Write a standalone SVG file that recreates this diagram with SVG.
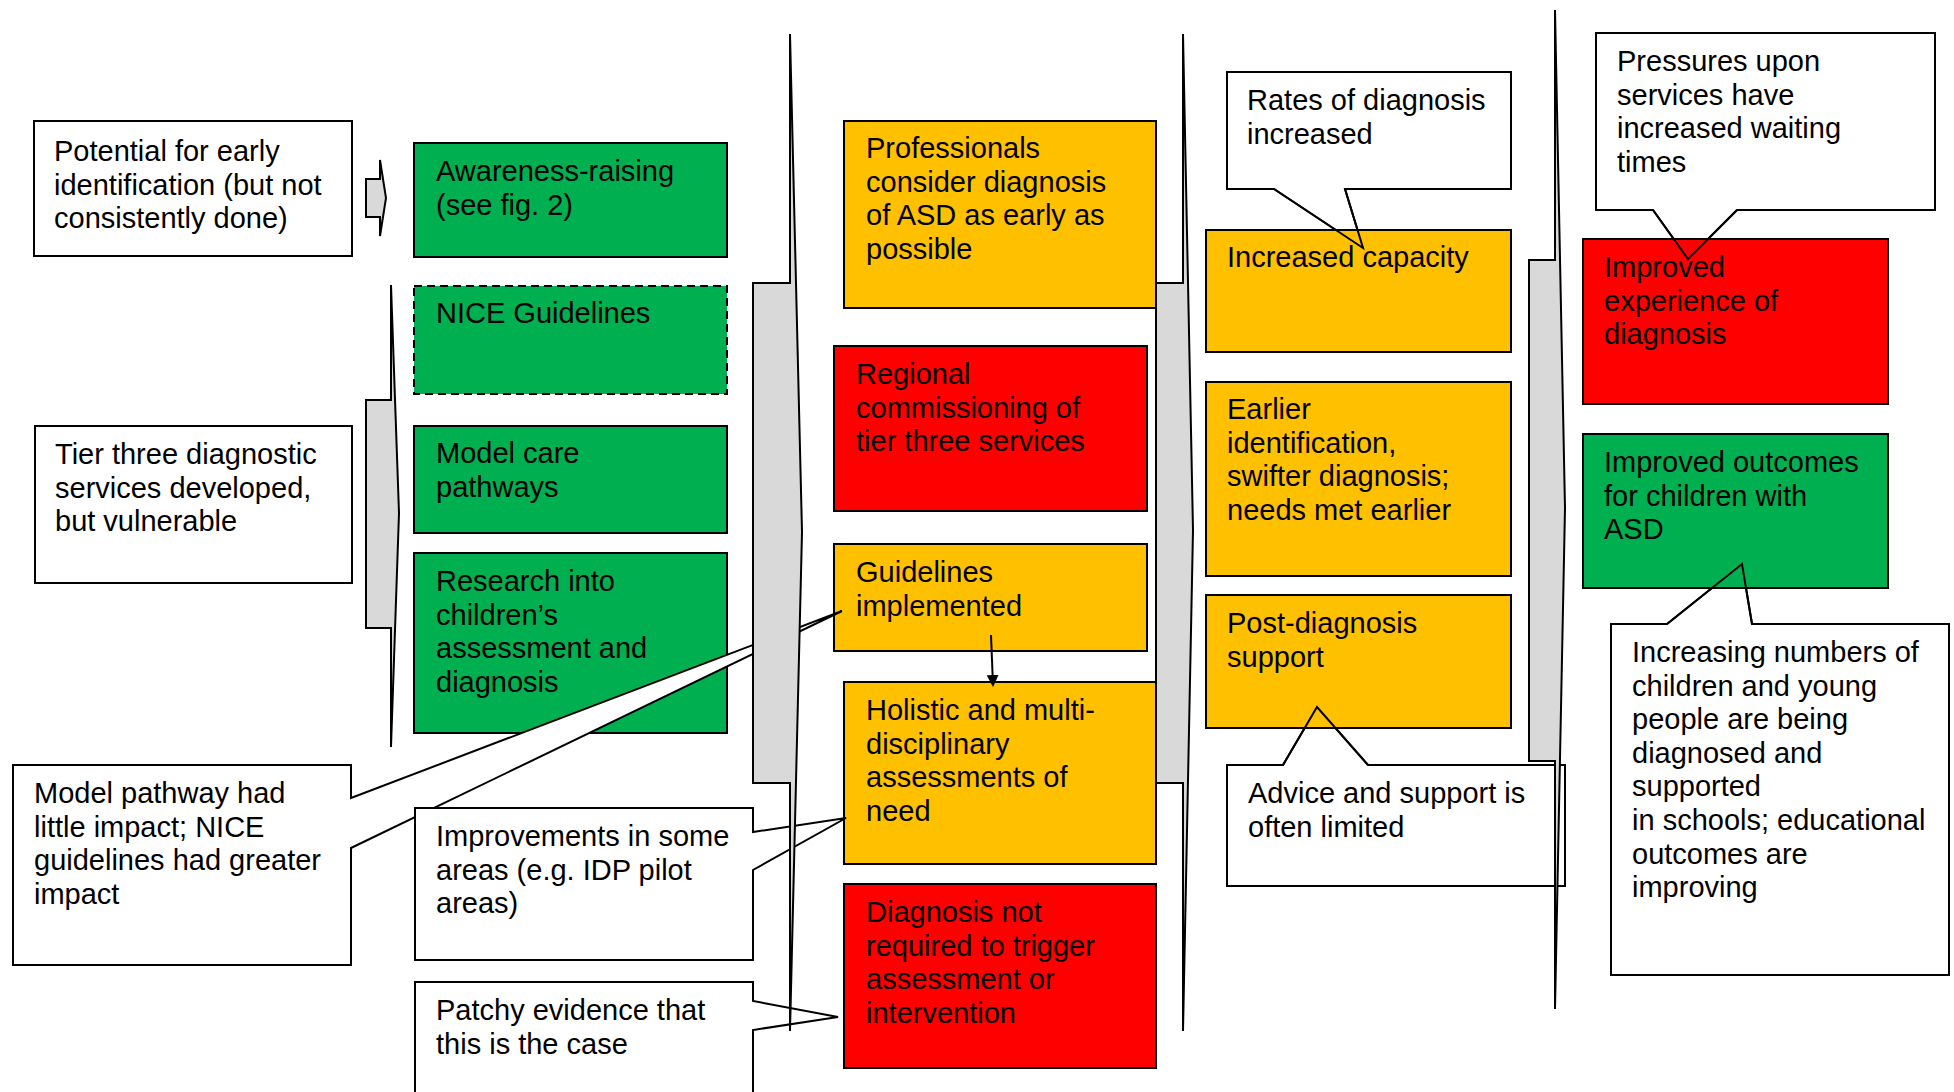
<svg xmlns="http://www.w3.org/2000/svg" width="1954" height="1092" viewBox="0 0 1954 1092">
<defs>
<style>
.t{font-family:"Liberation Sans",Arial,sans-serif;font-size:29px;fill:#000}
.box{stroke:#000;stroke-width:2}
.g{fill:#00b050}.y{fill:#ffc000}.r{fill:#ff0000}.w{fill:#fff}
.dash{stroke-dasharray:8 5}
.arr{fill:#d9d9d9;stroke:#000;stroke-width:2;stroke-linejoin:miter}
.ptr{fill:none;stroke:#000;stroke-width:2;stroke-linejoin:miter}
.con{stroke:#000;stroke-width:2;fill:none}
</style>
<marker id="ah" markerWidth="12" markerHeight="12" refX="10" refY="6" orient="auto" markerUnits="userSpaceOnUse">
<path d="M0,0 L12,6 L0,12 z" fill="#000"/>
</marker>
</defs>
<rect width="1954" height="1092" fill="#fff"/>

<g id="n-potential">
<rect class="box w" x="34" y="121" width="318" height="135"/>
<text class="t" x="54" y="161"><tspan x="54">Potential for early</tspan><tspan x="54" dy="33.6">identification (but not</tspan><tspan x="54" dy="33.6">consistently done)</tspan></text>
</g>
<g id="n-tier3">
<rect class="box w" x="35" y="426" width="317" height="157"/>
<text class="t" x="55" y="464"><tspan x="55">Tier three diagnostic</tspan><tspan x="55" dy="33.6">services developed,</tspan><tspan x="55" dy="33.6">but vulnerable</tspan></text>
</g>

<g id="n-awareness">
<rect class="box g" x="414" y="143" width="313" height="114"/>
<text class="t" x="436" y="181"><tspan x="436">Awareness-raising</tspan><tspan x="436" dy="33.6">(see fig. 2)</tspan></text>
</g>
<g id="n-nice">
<rect class="box g dash" x="414" y="286" width="313" height="108"/>
<text class="t" x="436" y="323">NICE Guidelines</text>
</g>
<g id="n-model">
<rect class="box g" x="414" y="426" width="313" height="107"/>
<text class="t" x="436" y="463"><tspan x="436">Model care</tspan><tspan x="436" dy="33.6">pathways</tspan></text>
</g>
<g id="n-research">
<rect class="box g" x="414" y="553" width="313" height="180"/>
<text class="t" x="436" y="591"><tspan x="436">Research into</tspan><tspan x="436" dy="33.6">children’s</tspan><tspan x="436" dy="33.6">assessment and</tspan><tspan x="436" dy="33.6">diagnosis</tspan></text>
</g>

<g id="n-professionals">
<rect class="box y" x="844" y="121" width="312" height="187"/>
<text class="t" x="866" y="158"><tspan x="866">Professionals</tspan><tspan x="866" dy="33.6">consider diagnosis</tspan><tspan x="866" dy="33.6">of ASD as early as</tspan><tspan x="866" dy="33.6">possible</tspan></text>
</g>
<g id="n-regional">
<rect class="box r" x="834" y="346" width="313" height="165"/>
<text class="t" x="856" y="384"><tspan x="856">Regional</tspan><tspan x="856" dy="33.6">commissioning of</tspan><tspan x="856" dy="33.6">tier three services</tspan></text>
</g>
<g id="n-guidelines">
<rect class="box y" x="834" y="544" width="313" height="107"/>
<text class="t" x="856" y="582"><tspan x="856">Guidelines</tspan><tspan x="856" dy="33.6">implemented</tspan></text>
</g>
<g id="n-holistic">
<rect class="box y" x="844" y="682" width="312" height="182"/>
<text class="t" x="866" y="720"><tspan x="866">Holistic and multi-</tspan><tspan x="866" dy="33.6">disciplinary</tspan><tspan x="866" dy="33.6">assessments of</tspan><tspan x="866" dy="33.6">need</tspan></text>
</g>
<g id="n-notrequired">
<rect class="box r" x="844" y="884" width="312" height="184"/>
<text class="t" x="866" y="922"><tspan x="866">Diagnosis not</tspan><tspan x="866" dy="33.6">required to trigger</tspan><tspan x="866" dy="33.6">assessment or</tspan><tspan x="866" dy="33.6">intervention</tspan></text>
</g>

<g id="n-modelpathway-note">
<polygon class="box w" points="13,765 351,765 351,798 842,611 351,848 351,965 13,965"/>
<text class="t" x="34" y="803"><tspan x="34">Model pathway had</tspan><tspan x="34" dy="33.6">little impact; NICE</tspan><tspan x="34" dy="33.6">guidelines had greater</tspan><tspan x="34" dy="33.6">impact</tspan></text>
</g>
<g id="n-improvements-note">
<polygon class="box w" points="415,808 753,808 753,832 846,818 753,870 753,960 415,960"/>
<text class="t" x="436" y="846"><tspan x="436">Improvements in some</tspan><tspan x="436" dy="33.6">areas (e.g. IDP pilot</tspan><tspan x="436" dy="33.6">areas)</tspan></text>
</g>
<g id="n-patchy-note">
<polygon class="box w" points="415,982 753,982 753,1001 838,1017 753,1030 753,1100 415,1100"/>
<text class="t" x="436" y="1020"><tspan x="436">Patchy evidence that</tspan><tspan x="436" dy="33.6">this is the case</tspan></text>
</g>

<g id="n-rates-note">
<polygon class="box w" points="1227,72 1511,72 1511,189 1345,189 1363,248 1274,189 1227,189"/>
<text class="t" x="1247" y="110"><tspan x="1247">Rates of diagnosis</tspan><tspan x="1247" dy="33.6">increased</tspan></text>
</g>
<g id="n-capacity">
<rect class="box y" x="1206" y="230" width="305" height="122"/>
<text class="t" x="1227" y="267">Increased capacity</text>
</g>
<polyline class="ptr" points="1274,189 1363,248 1345,189"/>
<g id="n-earlier">
<rect class="box y" x="1206" y="382" width="305" height="194"/>
<text class="t" x="1227" y="419"><tspan x="1227">Earlier</tspan><tspan x="1227" dy="33.6">identification,</tspan><tspan x="1227" dy="33.6">swifter diagnosis;</tspan><tspan x="1227" dy="33.6">needs met earlier</tspan></text>
</g>
<g id="n-advice-note">
<polygon class="box w" points="1227,765 1283,765 1317,707 1368,765 1565,765 1565,886 1227,886"/>
<text class="t" x="1248" y="803"><tspan x="1248">Advice and support is</tspan><tspan x="1248" dy="33.6">often limited</tspan></text>
</g>
<g id="n-postdiag">
<rect class="box y" x="1206" y="595" width="305" height="133"/>
<text class="t" x="1227" y="633"><tspan x="1227">Post-diagnosis</tspan><tspan x="1227" dy="33.6">support</tspan></text>
</g>
<polyline class="ptr" points="1283,765 1317,707 1368,765"/>

<g id="n-pressures-note">
<polygon class="box w" points="1596,33 1935,33 1935,210 1737,210 1688,259 1653,210 1596,210"/>
<text class="t" x="1617" y="71"><tspan x="1617">Pressures upon</tspan><tspan x="1617" dy="33.6">services have</tspan><tspan x="1617" dy="33.6">increased waiting</tspan><tspan x="1617" dy="33.6">times</tspan></text>
</g>
<g id="n-experience">
<rect class="box r" x="1583" y="239" width="305" height="165"/>
<text class="t" x="1604" y="277"><tspan x="1604">Improved</tspan><tspan x="1604" dy="33.6">experience of</tspan><tspan x="1604" dy="33.6">diagnosis</tspan></text>
</g>
<polyline class="ptr" points="1653,210 1688,259 1737,210"/>
<g id="n-increasing-note">
<polygon class="box w" points="1611,624 1667,624 1742,564 1752,624 1949,624 1949,975 1611,975"/>
<text class="t" x="1632" y="662"><tspan x="1632">Increasing numbers of</tspan><tspan x="1632" dy="33.6">children and young</tspan><tspan x="1632" dy="33.6">people are being</tspan><tspan x="1632" dy="33.6">diagnosed and</tspan><tspan x="1632" dy="33.6">supported</tspan><tspan x="1632" dy="33.6">in schools; educational</tspan><tspan x="1632" dy="33.6">outcomes are</tspan><tspan x="1632" dy="33.6">improving</tspan></text>
</g>
<g id="n-outcomes">
<rect class="box g" x="1583" y="434" width="305" height="154"/>
<text class="t" x="1604" y="472"><tspan x="1604">Improved outcomes</tspan><tspan x="1604" dy="33.6">for children with</tspan><tspan x="1604" dy="33.6">ASD</tspan></text>
</g>
<polyline class="ptr" points="1667,624 1742,564 1752,624"/>

<g id="connectors">
<polygon class="arr" points="366,179 380,179 380,160 386,198 380,236 380,217 366,217"/>
<polygon class="arr" points="366,400 391,400 391,285 399,513 391,747 391,628 366,628"/>
<polygon class="arr" points="753,283 790,283 790,34 802,532 790,1031 790,783 753,783"/>
<polygon class="arr" points="1156,283 1183,283 1183,34 1193,530 1183,1031 1183,783 1156,783"/>
<polygon class="arr" points="1529,260 1555,260 1555,10 1565,508 1555,1009 1555,761 1529,761"/>
<line class="con" x1="991" y1="635" x2="993" y2="685" marker-end="url(#ah)"/>
</g>
</svg>
